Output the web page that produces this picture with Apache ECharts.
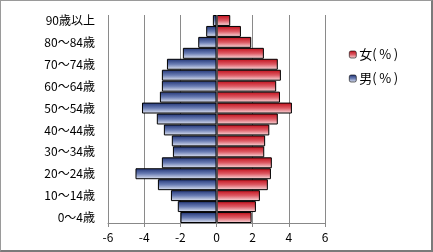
<!DOCTYPE html>
<html>
<head>
<meta charset="utf-8">
<script src="https://cdn.jsdelivr.net/npm/echarts@6/dist/echarts.min.js"></script>
<style>
html,body{margin:0;padding:0;background:#fff;}
#wrap{position:relative;width:433px;height:252px;}
#chart{position:absolute;left:0;top:0;width:433px;height:252px;}
#frame{position:absolute;left:0;top:0;width:433px;height:252px;box-sizing:border-box;border:1px solid #9a9a9a;border-right:2px solid #7a7a7a;border-bottom:2px solid #7a7a7a;pointer-events:none;}
</style>
</head>
<body>
<div id="wrap"><div id="chart"></div><div id="frame"></div></div>
<script>
const categories = ['0～4歳','5～9歳','10～14歳','15～19歳','20～24歳','25～29歳','30～34歳','35～39歳','40～44歳','45～49歳','50～54歳','55～59歳','60～64歳','65～69歳','70～74歳','75～79歳','80～84歳','85～89歳','90歳以上'];
const maleValues = [-1.99,-2.14,-2.52,-3.24,-4.48,-3.02,-2.41,-2.47,-2.91,-3.30,-4.12,-3.13,-3.02,-3.02,-2.74,-1.86,-1.01,-0.57,-0.20];
const femaleValues = [1.94,2.18,2.40,2.84,3.01,3.06,2.64,2.69,2.92,3.39,4.17,3.51,3.30,3.56,3.39,2.62,1.92,1.35,0.76];
const xTicks = [-6,-4,-2,0,2,4,6];
const maleName = '男(\u2009%\u2009)';
const femaleName = '女(\u2009%\u2009)';

const font = '"Noto Sans CJK JP", sans-serif';
const chart = echarts.init(document.getElementById('chart'));
const blueGrad = new echarts.graphic.LinearGradient(0,0,0,1,[
  {offset:0,color:'#1f3274'},{offset:0.5,color:'#6a7db4'},{offset:1,color:'#e6eaf5'}]);
const redGrad = new echarts.graphic.LinearGradient(0,0,0,1,[
  {offset:0,color:'#c00c18'},{offset:0.5,color:'#dd5a64'},{offset:1,color:'#fbe2e4'}]);
chart.setOption({
  animation:false,
  textStyle:{fontFamily:font},
  grid:{left:108,right:108,top:15,bottom:29,containLabel:false},
  legend:{
    orient:'vertical', left:344, top:43, itemWidth:7, itemHeight:7, itemGap:11,
    data:[femaleName, maleName],
    textStyle:{fontFamily:font,fontSize:13,color:'#000',padding:[0,0,0,-2]},
    itemStyle:{borderColor:'#000',borderWidth:0.6}
  },
  xAxis:{
    type:'value', min:xTicks[0], max:xTicks[xTicks.length-1], interval:2,
    axisLine:{show:true,lineStyle:{color:'#888',width:1}},
    axisTick:{show:true,length:4,lineStyle:{color:'#888'}},
    axisLabel:{fontFamily:font,fontSize:12,color:'#000',margin:8},
    splitLine:{show:true,lineStyle:{color:'#8a8a8a',width:1}}
  },
  yAxis:{
    type:'category', data:categories,
    axisLine:{show:false}, axisTick:{show:false},
    axisLabel:{interval:1,fontFamily:font,fontSize:12,color:'#000',margin:13}
  },
  series:[
    {name:maleName,type:'bar',data:maleValues,barGap:'-100%',barCategoryGap:'0%',
     itemStyle:{color:blueGrad,borderColor:'#000',borderWidth:1},
     markLine:{silent:true,symbol:'none',label:{show:false},
       lineStyle:{color:'#555',width:1.5,type:'solid'},data:[{xAxis:0}]}},
    {name:femaleName,type:'bar',data:femaleValues,barGap:'-100%',barCategoryGap:'0%',
     itemStyle:{color:redGrad,borderColor:'#000',borderWidth:1}}
  ]
});
</script>
</body>
</html>
